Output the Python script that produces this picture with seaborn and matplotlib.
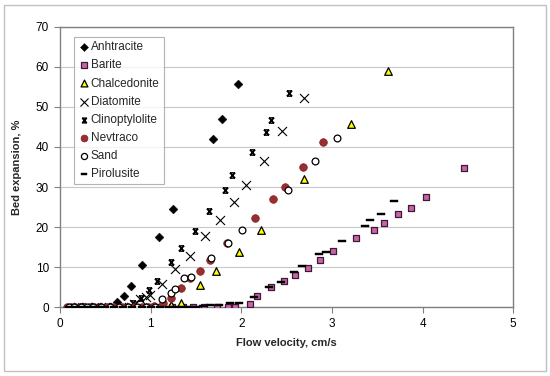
import matplotlib
matplotlib.use('agg')
import matplotlib.pyplot as plt
from matplotlib.path import Path
import numpy as np
import pandas as pd
import seaborn as sns

# flow velocity (cm/s) and bed expansion (%)
anthracite_v = [0.15, 0.22, 0.28, 0.35, 0.42, 0.5, 0.56, 0.63, 0.71, 0.78, 0.91, 1.09, 1.25, 1.69, 1.79, 1.96]
anthracite_e = [0, 0, 0, 0, 0, 0, 0, 1.2, 2.8, 5.3, 10.5, 17.4, 24.5, 42.1, 46.9, 55.7]

barite_v = [0.11, 0.25, 0.4, 0.55, 0.7, 0.85, 1.0, 1.12, 1.24, 1.36, 1.47, 1.59, 1.73, 1.85, 1.93,
            2.10, 2.17, 2.33, 2.47, 2.59, 2.74, 2.87, 3.01, 3.27, 3.46, 3.57, 3.73, 3.87, 4.04, 4.46]
barite_e = [0, 0, 0, 0, 0, 0, 0, 0, 0, 0, 0, 0, 0, 0, 0,
            0.75, 2.75, 5.1, 6.5, 8.0, 9.8, 11.7, 14.0, 17.3, 19.3, 21.1, 23.2, 24.7, 27.6, 34.8]

chalcedonite_v = [0.2, 0.35, 0.5, 0.65, 0.8, 0.95, 1.05, 1.15, 1.23, 1.33, 1.54, 1.72, 1.97, 2.22, 2.69, 3.21, 3.62]
chalcedonite_e = [0, 0, 0, 0, 0, 0, 0, 0, 0.5, 0.9, 5.5, 9.0, 13.8, 19.3, 31.9, 45.7, 59.0]

diatomite_v = [0.2, 0.3, 0.4, 0.5, 0.6, 0.7, 0.76, 0.82, 0.88, 0.95, 0.99, 1.13, 1.27, 1.43, 1.60,
               1.77, 1.92, 2.05, 2.25, 2.45, 2.69]
diatomite_e = [0, 0, 0, 0, 0, 0, 0, 0.7, 2.0, 2.5, 3.0, 5.7, 9.4, 12.8, 17.8,
               21.8, 26.3, 30.4, 36.6, 44.1, 52.3]

clino_v = [0.2, 0.3, 0.4, 0.5, 0.6, 0.7, 0.75, 0.81, 0.89, 0.98, 1.07, 1.22, 1.33, 1.49, 1.64,
           1.82, 1.90, 2.12, 2.27, 2.33, 2.53]
clino_e = [0, 0, 0, 0, 0, 0, 0, 1.1, 2.2, 4.3, 6.6, 11.3, 14.7, 19.1, 24.0,
           29.3, 33.0, 38.8, 43.8, 46.8, 53.6]

nevtraco_v = [0.08, 0.12, 0.17, 0.22, 0.27, 0.32, 0.38, 0.45, 0.52, 0.6, 0.68, 0.75, 0.82, 0.9, 0.97,
              1.04, 1.14, 1.22, 1.34, 1.44, 1.54, 1.65, 1.84, 2.15, 2.35, 2.48, 2.68, 2.90]
nevtraco_e = [0, 0, 0, 0, 0, 0, 0, 0, 0, 0, 0, 0, 0, 0, 0,
              0.3, 0.9, 2.2, 4.8, 7.2, 9.1, 11.8, 15.9, 22.3, 27.0, 29.9, 35.1, 41.3]

sand_v = [0.1, 0.16, 0.23, 0.3, 0.37, 0.45, 0.55, 0.65, 0.75, 0.85, 0.95, 1.05,
          1.13, 1.23, 1.27, 1.37, 1.45, 1.67, 1.85, 2.01, 2.52, 2.81, 3.06]
sand_e = [0, 0, 0, 0, 0, 0, 0, 0, 0, 0, 0, 0,
          1.9, 3.4, 4.5, 7.2, 7.6, 12.3, 15.9, 19.3, 29.3, 36.4, 42.2]

pirolusite_v = [0.1, 0.18, 0.26, 0.34, 0.42, 0.5, 0.6, 0.7, 0.8, 0.9, 1.0, 1.1, 1.2, 1.28, 1.35, 1.42, 1.5,
                1.58, 1.66, 1.75, 1.88, 1.97, 2.14, 2.31, 2.44, 2.58, 2.67, 2.86, 2.94, 3.11,
                3.37, 3.42, 3.54, 3.69]
pirolusite_e = [0, 0, 0, 0, 0, 0, 0, 0, 0, 0, 0, 0, 0, 0, 0, 0, 0,
                0.3, 0.5, 0.5, 1.0, 1.1, 2.4, 4.9, 6.25, 8.8, 10.25, 13.2, 13.8, 16.5,
                20.25, 21.7, 23.3, 26.5]

# x with bars on top and bottom (excel "star" marker)
star = Path([(-1, -1), (1, 1), (-1, 1), (1, -1), (-1, 1), (1, 1), (-1, -1), (1, -1)],
            [Path.MOVETO, Path.LINETO] * 4)
dash = [(-1, -0.3), (1, -0.3), (1, 0.3), (-1, 0.3), (-1, -0.3)]

series = [
    ('Anhtracite', anthracite_v, anthracite_e, dict(marker='D', s=20, color='black', edgecolor='black')),
    ('Barite', barite_v, barite_e, dict(marker='s', s=24, color='#C864A8', edgecolor='#3c1a33', linewidth=0.9)),
    ('Chalcedonite', chalcedonite_v, chalcedonite_e, dict(marker='^', s=30, color='#FFFF00', edgecolor='black', linewidth=0.9)),
    ('Diatomite', diatomite_v, diatomite_e, dict(marker='x', s=42, color='black', linewidth=0.8)),
    ('Clinoptylolite', clino_v, clino_e, dict(marker=star, s=14, color='black', edgecolor='black', linewidth=1.1)),
    ('Nevtraco', nevtraco_v, nevtraco_e, dict(marker='o', s=30, color='#9B2D30', edgecolor='#7a2024', linewidth=0.5)),
    ('Sand', sand_v, sand_e, dict(marker='o', s=24, color='white', edgecolor='black', linewidth=0.9)),
    ('Pirolusite', pirolusite_v, pirolusite_e, dict(marker=dash, s=30, color='black', edgecolor='black', linewidth=0.3)),
]

sns.set_style('white')
plt.rcParams['font.family'] = ['Liberation Sans', 'DejaVu Sans']

fig = plt.figure(figsize=(5.5, 3.76), dpi=100)
ax = fig.add_axes([0.109, 0.1835, 0.824, 0.7447])

for name, v, e, kw in series:
    df = pd.DataFrame({'v': v, 'e': e})
    sns.scatterplot(data=df, x='v', y='e', ax=ax, label=name, zorder=3, **kw)

ax.set_xlim(0, 5)
ax.set_ylim(0, 70)
ax.set_xticks(range(0, 6))
ax.set_yticks(range(0, 80, 10))
ax.yaxis.grid(True, color='#c8c8c8', linewidth=0.8)
ax.xaxis.grid(False)
ax.set_axisbelow(True)
for sp in ax.spines.values():
    sp.set_color('#808080')
    sp.set_linewidth(1.0)
ax.tick_params(axis='both', labelsize=8.5, colors='#808080', labelcolor='black',
               length=4, width=0.8, direction='out', left=True, bottom=True, pad=4)
ax.set_xlabel('Flow velocity, cm/s', fontsize=8, fontweight='bold', labelpad=6)
ax.set_ylabel('Bed expansion, %', fontsize=8, fontweight='bold', labelpad=10)

leg = ax.legend(loc='upper left', bbox_to_anchor=(0.017, 0.985), fontsize=8.5, frameon=True,
                fancybox=False, edgecolor='#a0a0a0', handletextpad=0.1, handlelength=1.0,
                labelspacing=0.52, borderpad=0.35, markerscale=0.9)
leg.get_frame().set_linewidth(0.8)

fig.add_artist(plt.Rectangle((0.008, 0.013), 0.984, 0.975, transform=fig.transFigure,
                             fill=False, edgecolor='#c0c0c0', linewidth=1.0))

fig.savefig('out.png', dpi=100)
